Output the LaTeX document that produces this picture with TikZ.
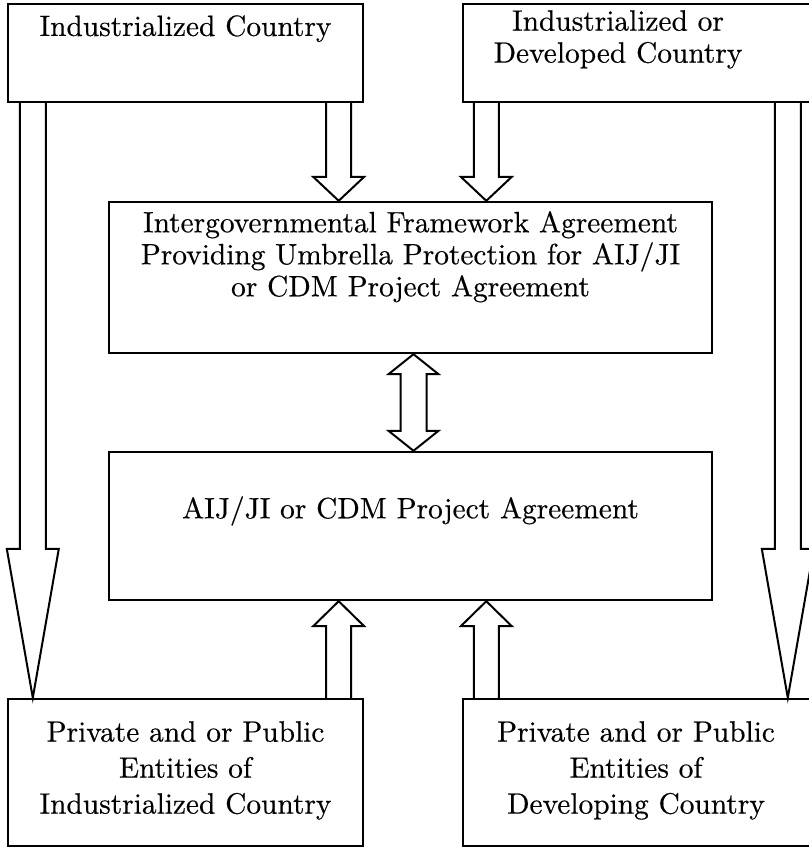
\documentclass[tikz,border=0pt]{standalone}
\usepackage{fontspec}
\setmainfont{lmroman10-regular.otf}[FakeBold=0.4]
\usetikzlibrary{calc}

\tikzset{
  box/.style={draw, line width=1.2pt, inner sep=0pt, minimum width=#1},
  txt/.style={font=\fontsize{14.7pt}{#1}\selectfont, align=center, inner sep=0pt, anchor=north},
  txt/.default=16pt,
  fat/.style={line width=1pt, line join=miter},
}

% hollow block arrow: from, to, half shaft, half head, head length
\newcommand\blockarrow[5]{%
  \draw[fat] let \p1=(#1), \p2=(#2), \n1={sign(\y1-\y2)} in
    (\x1-#3,\y1) -- (\x1-#3,\y2+\n1*#5) -- (\x1-#4,\y2+\n1*#5) -- (\x1,\y2)
    -- (\x1+#4,\y2+\n1*#5) -- (\x1+#3,\y2+\n1*#5) -- (\x1+#3,\y1);
}
% hollow double block arrow: top, bottom, half shaft, half head, head length
\newcommand\dblarrow[5]{%
  \draw[fat] let \p1=(#1), \p2=(#2) in
    (\x1,\y1) -- (\x1+#4,\y1-#5) -- (\x1+#3,\y1-#5) -- (\x1+#3,\y2+#5)
    -- (\x1+#4,\y2+#5) -- (\x1,\y2) -- (\x1-#4,\y2+#5) -- (\x1-#3,\y2+#5)
    -- (\x1-#3,\y1-#5) -- (\x1-#4,\y1-#5) -- cycle;
}

\begin{document}
\begin{tikzpicture}[x=0.5pt, y=-0.5pt]
  \path[use as bounding box, clip] (0,0) rectangle (809,848);
  \fill[white] (0,0) rectangle (809,848);

  \node[box=177.5pt, minimum height=49pt,
    label={[txt, yshift=-6pt]north:Industrialized Country}] (ic) at (185.5,53) {};
  \node[box=175.5pt, minimum height=49pt,
    label={[txt, xshift=-10.25pt, yshift=-3.5pt]north:Industrialized or\\Developed Country}] (dc) at (638.5,53) {};
  \node[box=301.5pt, minimum height=75.5pt,
    label={[txt, yshift=-5pt]north:Intergovernmental Framework Agreement\\Providing Umbrella Protection for AIJ/JI\\or CDM Project Agreement}] (ig) at (410.5,277.5) {};
  \node[box=301.5pt, minimum height=74pt,
    label={[txt, yshift=-22.5pt]north:AIJ/JI or CDM Project Agreement}] (ag) at (410.5,526) {};
  \node[box=177.5pt, minimum height=73.5pt,
    label={[txt=18pt, yshift=-11.5pt]north:Private and or Public\\Entities of\\Industrialized Country}] (pi) at (185.5,772.5) {};
  \node[box=175.5pt, minimum height=73.5pt,
    label={[txt=18pt, xshift=-1.25pt, yshift=-11.5pt]north:Private and or Public\\Entities of\\Developing Country}] (pd) at (638.5,772.5) {};

  \blockarrow{[xshift=-12.75pt]ic.south east}{ig.north}{6.25pt}{12.75pt}{12pt}
  \blockarrow{[xshift=12.25pt]dc.south west}{ig.north}{6.25pt}{12.75pt}{12pt}
  \blockarrow{[xshift=13pt]ic.south west}{pi.north}{6.5pt}{13pt}{74.5pt}
  \blockarrow{[xshift=163pt]dc.south west}{pd.north}{6.5pt}{13pt}{74.5pt}
  \blockarrow{[xshift=-12.75pt]pi.north east}{ag.south}{6.25pt}{12.75pt}{12.5pt}
  \blockarrow{[xshift=12.25pt]pd.north west}{ag.south}{6.25pt}{12.75pt}{12.5pt}
  \dblarrow{[xshift=1.5pt]ig.south}{ag.north}{6.5pt}{12.5pt}{10pt}
\end{tikzpicture}
\end{document}
